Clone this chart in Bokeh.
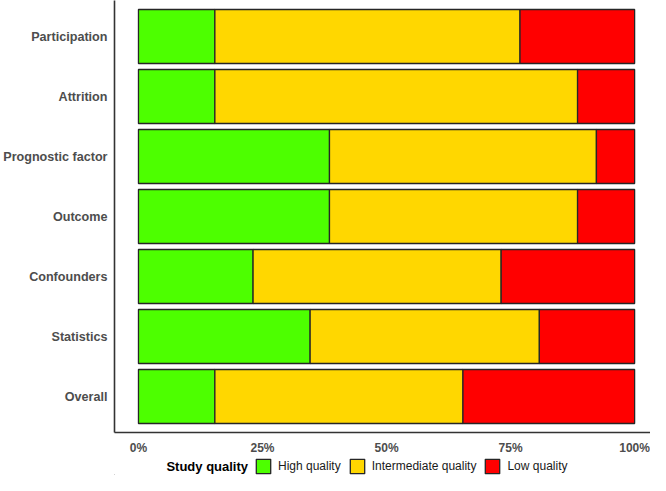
from bokeh.plotting import figure
from bokeh.layouts import column
from bokeh.models import Range1d, Legend, LegendItem, FixedTicker, ColumnDataSource, Label
from bokeh.embed import file_html
from bokeh.resources import INLINE

categories = ["Participation", "Attrition", "Prognostic factor", "Outcome",
              "Confounders", "Statistics", "Overall"]
high = [15.4, 15.4, 38.5, 38.5, 23.1, 34.6, 15.4]
intermediate = [61.5, 73.1, 53.8, 50.0, 50.0, 46.2, 50.0]
low = [23.1, 11.5, 7.7, 11.5, 26.9, 19.2, 34.6]
levels = ["High quality", "Intermediate quality", "Low quality"]
colors = ["#4DFF00", "#FFD700", "#FF0000"]
legend_title = "Study quality"
x_ticks = [0, 25, 50, 75, 100]
x_labels = ["0%", "25%", "50%", "75%", "100%"]

n = len(categories)
ypos = [n - i for i in range(n)]
EDGE = "#262626"

p = figure(width=650, height=457, output_backend="svg", toolbar_location=None,
           x_range=Range1d(-4.83, 103.2), y_range=Range1d(0.4, n + 0.6),
           min_border_left=113, min_border_right=0, min_border_top=0, min_border_bottom=0)

series = [high, intermediate, low]
left = [0.0] * n
for vals, name, col in zip(series, levels, colors):
    right = [l + v for l, v in zip(left, vals)]
    src = ColumnDataSource(dict(y=ypos, left=left, right=right))
    p.hbar(y="y", left="left", right="right", height=0.9, source=src,
           fill_color=col, line_color=EDGE, line_width=1.3)
    left = right

p.xaxis.ticker = FixedTicker(ticks=x_ticks)
p.xaxis.major_label_overrides = {t: l for t, l in zip(x_ticks, x_labels)}
p.yaxis.ticker = FixedTicker(ticks=ypos)
p.yaxis.major_label_overrides = {y: c for y, c in zip(ypos, categories)}

for ax in (p.xaxis[0], p.yaxis[0]):
    ax.major_tick_line_color = None
    ax.minor_tick_line_color = None
    ax.major_tick_out = 0
    ax.major_tick_in = 0
    ax.axis_line_color = "#333333"
    ax.axis_line_width = 1.6
    ax.major_label_text_font = "Liberation Sans"
    ax.major_label_text_font_style = "bold"
    ax.major_label_text_color = "#4D4D4D"
p.yaxis.major_label_text_font_size = "12.6px"
p.xaxis.major_label_text_font_size = "12px"
p.yaxis.major_label_standoff = 7
p.xaxis.major_label_standoff = 8

p.xgrid.grid_line_color = None
p.ygrid.grid_line_color = None
p.outline_line_color = None

# legend strip (its frame is aligned with the main frame by the column layout)
lg = figure(width=650, height=18, output_backend="svg", toolbar_location=None,
            x_range=Range1d(113, 650), y_range=Range1d(0, 18),
            x_axis_type=None, y_axis_type=None,
            min_border_left=113, min_border_right=0, min_border_top=0, min_border_bottom=0)
lg.xgrid.grid_line_color = None
lg.ygrid.grid_line_color = None
lg.outline_line_color = None

items = []
for name, col in zip(levels, colors):
    # off-screen proxy so that the legend has a glyph to draw
    r = lg.hbar(y=[-1000], left=[0], right=[1], height=1, fill_color=col,
                line_color=EDGE, line_width=1.3)
    items.append(LegendItem(label=name, renderers=[r]))

legend = Legend(items=items, orientation="horizontal", location=(140, 0))
legend.label_text_font = "Liberation Sans"
legend.label_text_font_size = "12px"
legend.label_text_color = "#1A1A1A"
legend.glyph_width = 18
legend.glyph_height = 18
legend.label_standoff = 6
legend.spacing = 7
legend.border_line_color = None
legend.background_fill_alpha = 0
legend.margin = 0
legend.padding = 0
legend.label_height = 18
lg.add_layout(legend)

lg.add_layout(Label(x=165, y=9, text=legend_title,
                    text_font="Liberation Sans", text_font_style="bold", text_font_size="13px",
                    text_color="#000000", text_baseline="middle", text_align="left"))

layout = column(p, lg, spacing=0)
open("out.html", "w").write(file_html(layout, INLINE))
